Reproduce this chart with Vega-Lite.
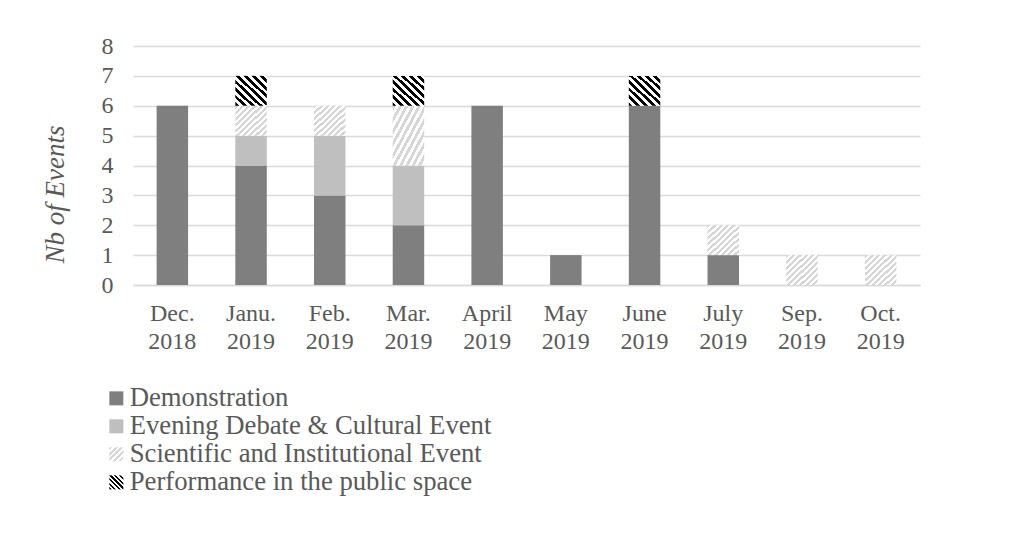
{
  "$schema": "https://vega.github.io/schema/vega-lite/v6.json",
  "width": 787,
  "height": 239,
  "autosize": {"type": "none"},
  "padding": {"left": 133, "top": 46, "right": 113, "bottom": 248},
  "background": "white",
  "config": {
    "font": "Liberation Serif",
    "view": {"stroke": null},
    "axis": {"labelColor": "#595959", "titleColor": "#595959", "labelFont": "Liberation Serif", "titleFont": "Liberation Serif"},
    "legend": {"labelColor": "#595959", "labelFont": "Liberation Serif"}
  },
  "data": {
    "values": [
      {"month": "Dec. 2018", "type": "Demonstration", "k": 1, "n": 6},
      {"month": "Janu. 2019", "type": "Demonstration", "k": 1, "n": 4},
      {"month": "Janu. 2019", "type": "Evening Debate & Cultural Event", "k": 2, "n": 1},
      {"month": "Janu. 2019", "type": "Scientific and Institutional Event", "k": 3, "n": 1},
      {"month": "Janu. 2019", "type": "Performance in the public space", "k": 4, "n": 1},
      {"month": "Feb. 2019", "type": "Demonstration", "k": 1, "n": 3},
      {"month": "Feb. 2019", "type": "Evening Debate & Cultural Event", "k": 2, "n": 2},
      {"month": "Feb. 2019", "type": "Scientific and Institutional Event", "k": 3, "n": 1},
      {"month": "Mar. 2019", "type": "Demonstration", "k": 1, "n": 2},
      {"month": "Mar. 2019", "type": "Evening Debate & Cultural Event", "k": 2, "n": 2},
      {"month": "Mar. 2019", "type": "Scientific and Institutional Event", "k": 3, "n": 2},
      {"month": "Mar. 2019", "type": "Performance in the public space", "k": 4, "n": 1},
      {"month": "April 2019", "type": "Demonstration", "k": 1, "n": 6},
      {"month": "May 2019", "type": "Demonstration", "k": 1, "n": 1},
      {"month": "June 2019", "type": "Demonstration", "k": 1, "n": 6},
      {"month": "June 2019", "type": "Performance in the public space", "k": 4, "n": 1},
      {"month": "July 2019", "type": "Demonstration", "k": 1, "n": 1},
      {"month": "July 2019", "type": "Scientific and Institutional Event", "k": 3, "n": 1},
      {"month": "Sep. 2019", "type": "Scientific and Institutional Event", "k": 3, "n": 1},
      {"month": "Oct. 2019", "type": "Scientific and Institutional Event", "k": 3, "n": 1}
    ]
  },
  "mark": {"type": "bar"},
  "encoding": {
    "x": {
      "field": "month",
      "type": "nominal",
      "sort": null,
      "scale": {"paddingInner": 0.6, "paddingOuter": 0.3},
      "axis": {
        "title": null,
        "labelAngle": 0,
        "labelExpr": "split(datum.value, ' ')",
        "labelFontSize": 24,
        "labelLineHeight": 28,
        "labelBaseline": "alphabetic",
        "labelPadding": 35,
        "ticks": false,
        "domain": true,
        "domainColor": "#d9d9d9",
        "domainWidth": 1.5,
        "grid": false
      }
    },
    "y": {
      "field": "n",
      "type": "quantitative",
      "stack": "zero",
      "scale": {"domain": [0, 8], "nice": false},
      "axis": {
        "title": "Nb of Events",
        "titleFontSize": 27,
        "titleFontStyle": "italic",
        "titleFontWeight": "normal",
        "titleX": -78,
        "titleY": 148,
        "titleAngle": -90,
        "titleAlign": "center",
        "titleBaseline": "middle",
        "values": [0, 1, 2, 3, 4, 5, 6, 7, 8],
        "labelFontSize": 24,
        "labelPadding": 20,
        "ticks": false,
        "domain": false,
        "grid": true,
        "gridColor": "#d9d9d9",
        "gridWidth": 1.5
      }
    },
    "order": {"field": "k", "type": "quantitative", "sort": "ascending"},
    "fill": {
      "field": "type",
      "type": "nominal",
      "scale": {
        "domain": ["Demonstration", "Evening Debate & Cultural Event", "Scientific and Institutional Event", "Performance in the public space"],
        "range": [
          "#7f7f7f",
          "#bfbfbf",
          {"expr": "{gradient:'linear',x1:0,y1:0,x2:1,y2:1,stops:[{offset:0,color:'#d6d6d6'},{offset:0.1,color:'#d6d6d6'},{offset:0.1,color:'#ffffff'},{offset:0.2,color:'#ffffff'},{offset:0.2,color:'#d6d6d6'},{offset:0.3,color:'#d6d6d6'},{offset:0.3,color:'#ffffff'},{offset:0.4,color:'#ffffff'},{offset:0.4,color:'#d6d6d6'},{offset:0.5,color:'#d6d6d6'},{offset:0.5,color:'#ffffff'},{offset:0.6,color:'#ffffff'},{offset:0.6,color:'#d6d6d6'},{offset:0.7,color:'#d6d6d6'},{offset:0.7,color:'#ffffff'},{offset:0.8,color:'#ffffff'},{offset:0.8,color:'#d6d6d6'},{offset:0.9,color:'#d6d6d6'},{offset:0.9,color:'#ffffff'},{offset:1,color:'#ffffff'}]}"},
          {"expr": "{gradient:'linear',x1:0,y1:1,x2:1,y2:0,stops:[{offset:0,color:'#000000'},{offset:0.0833,color:'#000000'},{offset:0.0833,color:'#ffffff'},{offset:0.1667,color:'#ffffff'},{offset:0.1667,color:'#000000'},{offset:0.25,color:'#000000'},{offset:0.25,color:'#ffffff'},{offset:0.3333,color:'#ffffff'},{offset:0.3333,color:'#000000'},{offset:0.4167,color:'#000000'},{offset:0.4167,color:'#ffffff'},{offset:0.5,color:'#ffffff'},{offset:0.5,color:'#000000'},{offset:0.5833,color:'#000000'},{offset:0.5833,color:'#ffffff'},{offset:0.6667,color:'#ffffff'},{offset:0.6667,color:'#000000'},{offset:0.75,color:'#000000'},{offset:0.75,color:'#ffffff'},{offset:0.8333,color:'#ffffff'},{offset:0.8333,color:'#000000'},{offset:0.9167,color:'#000000'},{offset:0.9167,color:'#ffffff'},{offset:1,color:'#ffffff'}]}"}
        ]
      },
      "condition": [
        {
          "test": "datum.type === 'Performance in the public space'",
          "value": {
            "gradient": "linear", "x1": 0, "y1": 1, "x2": 1, "y2": 0,
            "stops": [
              {"offset": 0, "color": "#000000"}, {"offset": 0.0625, "color": "#000000"}, {"offset": 0.0625, "color": "#ffffff"}, {"offset": 0.125, "color": "#ffffff"},
              {"offset": 0.125, "color": "#000000"}, {"offset": 0.1875, "color": "#000000"}, {"offset": 0.1875, "color": "#ffffff"}, {"offset": 0.25, "color": "#ffffff"},
              {"offset": 0.25, "color": "#000000"}, {"offset": 0.3125, "color": "#000000"}, {"offset": 0.3125, "color": "#ffffff"}, {"offset": 0.375, "color": "#ffffff"},
              {"offset": 0.375, "color": "#000000"}, {"offset": 0.4375, "color": "#000000"}, {"offset": 0.4375, "color": "#ffffff"}, {"offset": 0.5, "color": "#ffffff"},
              {"offset": 0.5, "color": "#000000"}, {"offset": 0.5625, "color": "#000000"}, {"offset": 0.5625, "color": "#ffffff"}, {"offset": 0.625, "color": "#ffffff"},
              {"offset": 0.625, "color": "#000000"}, {"offset": 0.6875, "color": "#000000"}, {"offset": 0.6875, "color": "#ffffff"}, {"offset": 0.75, "color": "#ffffff"},
              {"offset": 0.75, "color": "#000000"}, {"offset": 0.8125, "color": "#000000"}, {"offset": 0.8125, "color": "#ffffff"}, {"offset": 0.875, "color": "#ffffff"},
              {"offset": 0.875, "color": "#000000"}, {"offset": 0.9375, "color": "#000000"}, {"offset": 0.9375, "color": "#ffffff"}, {"offset": 1, "color": "#ffffff"}
            ]
          }
        },
        {
          "test": "datum.type === 'Scientific and Institutional Event'",
          "value": {
            "gradient": "linear", "x1": 0, "y1": 0, "x2": 1, "y2": 1,
            "stops": [
              {"offset": 0, "color": "#d6d6d6"}, {"offset": 0.05, "color": "#d6d6d6"}, {"offset": 0.05, "color": "#ffffff"}, {"offset": 0.1, "color": "#ffffff"},
              {"offset": 0.1, "color": "#d6d6d6"}, {"offset": 0.15, "color": "#d6d6d6"}, {"offset": 0.15, "color": "#ffffff"}, {"offset": 0.2, "color": "#ffffff"},
              {"offset": 0.2, "color": "#d6d6d6"}, {"offset": 0.25, "color": "#d6d6d6"}, {"offset": 0.25, "color": "#ffffff"}, {"offset": 0.3, "color": "#ffffff"},
              {"offset": 0.3, "color": "#d6d6d6"}, {"offset": 0.35, "color": "#d6d6d6"}, {"offset": 0.35, "color": "#ffffff"}, {"offset": 0.4, "color": "#ffffff"},
              {"offset": 0.4, "color": "#d6d6d6"}, {"offset": 0.45, "color": "#d6d6d6"}, {"offset": 0.45, "color": "#ffffff"}, {"offset": 0.5, "color": "#ffffff"},
              {"offset": 0.5, "color": "#d6d6d6"}, {"offset": 0.55, "color": "#d6d6d6"}, {"offset": 0.55, "color": "#ffffff"}, {"offset": 0.6, "color": "#ffffff"},
              {"offset": 0.6, "color": "#d6d6d6"}, {"offset": 0.65, "color": "#d6d6d6"}, {"offset": 0.65, "color": "#ffffff"}, {"offset": 0.7, "color": "#ffffff"},
              {"offset": 0.7, "color": "#d6d6d6"}, {"offset": 0.75, "color": "#d6d6d6"}, {"offset": 0.75, "color": "#ffffff"}, {"offset": 0.8, "color": "#ffffff"},
              {"offset": 0.8, "color": "#d6d6d6"}, {"offset": 0.85, "color": "#d6d6d6"}, {"offset": 0.85, "color": "#ffffff"}, {"offset": 0.9, "color": "#ffffff"},
              {"offset": 0.9, "color": "#d6d6d6"}, {"offset": 0.95, "color": "#d6d6d6"}, {"offset": 0.95, "color": "#ffffff"}, {"offset": 1, "color": "#ffffff"}
            ]
          }
        }
      ],
      "legend": {
        "title": null,
        "orient": "none",
        "legendX": -30,
        "legendY": 339,
        "direction": "vertical",
        "symbolType": "square",
        "symbolSize": 196,
        "symbolStrokeWidth": 0,
        "labelFontSize": 26.7,
        "labelOffset": 0,
        "rowPadding": -0.6,
        "padding": 0,
        "labelLimit": 600
      }
    }
  }
}
